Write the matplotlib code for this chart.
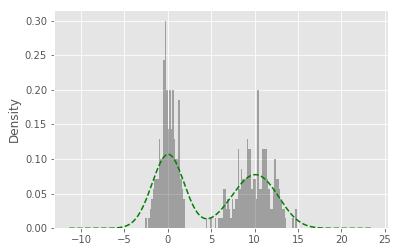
import numpy as np
import matplotlib
matplotlib.use('Agg')
import matplotlib.pyplot as plt

# Data range of the sample (histogram spans min..max in 100 bins)
data_min = -2.62
data_max = 14.88

# Counts per bin (100 bins)
counts_left = [1, 0, 1, 2, 3, 4, 5, 5, 5, 9, 7, 7, 17, 21, 14, 10, 14, 10, 14, 9,
               7, 7, 13, 5, 4, 3]
counts_gap = [0] * 14
counts_right = [1, 0, 0, 1, 0, 0, 1, 0, 1, 1, 1, 4, 4, 2, 3, 2, 1, 3, 2, 3,
                3, 8, 4, 6, 5, 5, 5, 9, 8, 8, 4, 5, 5, 3, 14, 4, 4, 8, 8, 8,
                5, 4, 2, 2, 4, 7, 5, 5, 4, 3, 2, 2, 1, 0, 0, 0, 0, 1, 0, 2]
counts = np.array(counts_left + counts_gap + counts_right)

plt.style.use('ggplot')
fig = plt.figure(figsize=(398 / 72, 252 / 72), dpi=72)
ax = fig.add_axes([54 / 398, (252 - 228.3) / 252, (388 - 54) / 398, 218 / 252])

edges = np.linspace(data_min, data_max, len(counts) + 1)
centers = (edges[:-1] + edges[1:]) / 2
ax.hist(centers, bins=edges, weights=counts, density=True, color='k', alpha=0.3)

# Gaussian KDE (Scott's rule) of the sample, as pandas' plot(kind='kde')
samples = np.repeat(centers, counts)
n = samples.size
bw = samples.std(ddof=1) * n ** (-1 / 5)
rng = data_max - data_min
ind = np.linspace(data_min - 0.5 * rng, data_max + 0.5 * rng, 1000)
dens = np.exp(-0.5 * ((ind[:, None] - samples[None, :]) / bw) ** 2).sum(axis=1) / (n * bw * np.sqrt(2 * np.pi))
ax.plot(ind, dens, 'g--')

ax.set_ylabel('Density')
fig.savefig('out.png', dpi=72)
